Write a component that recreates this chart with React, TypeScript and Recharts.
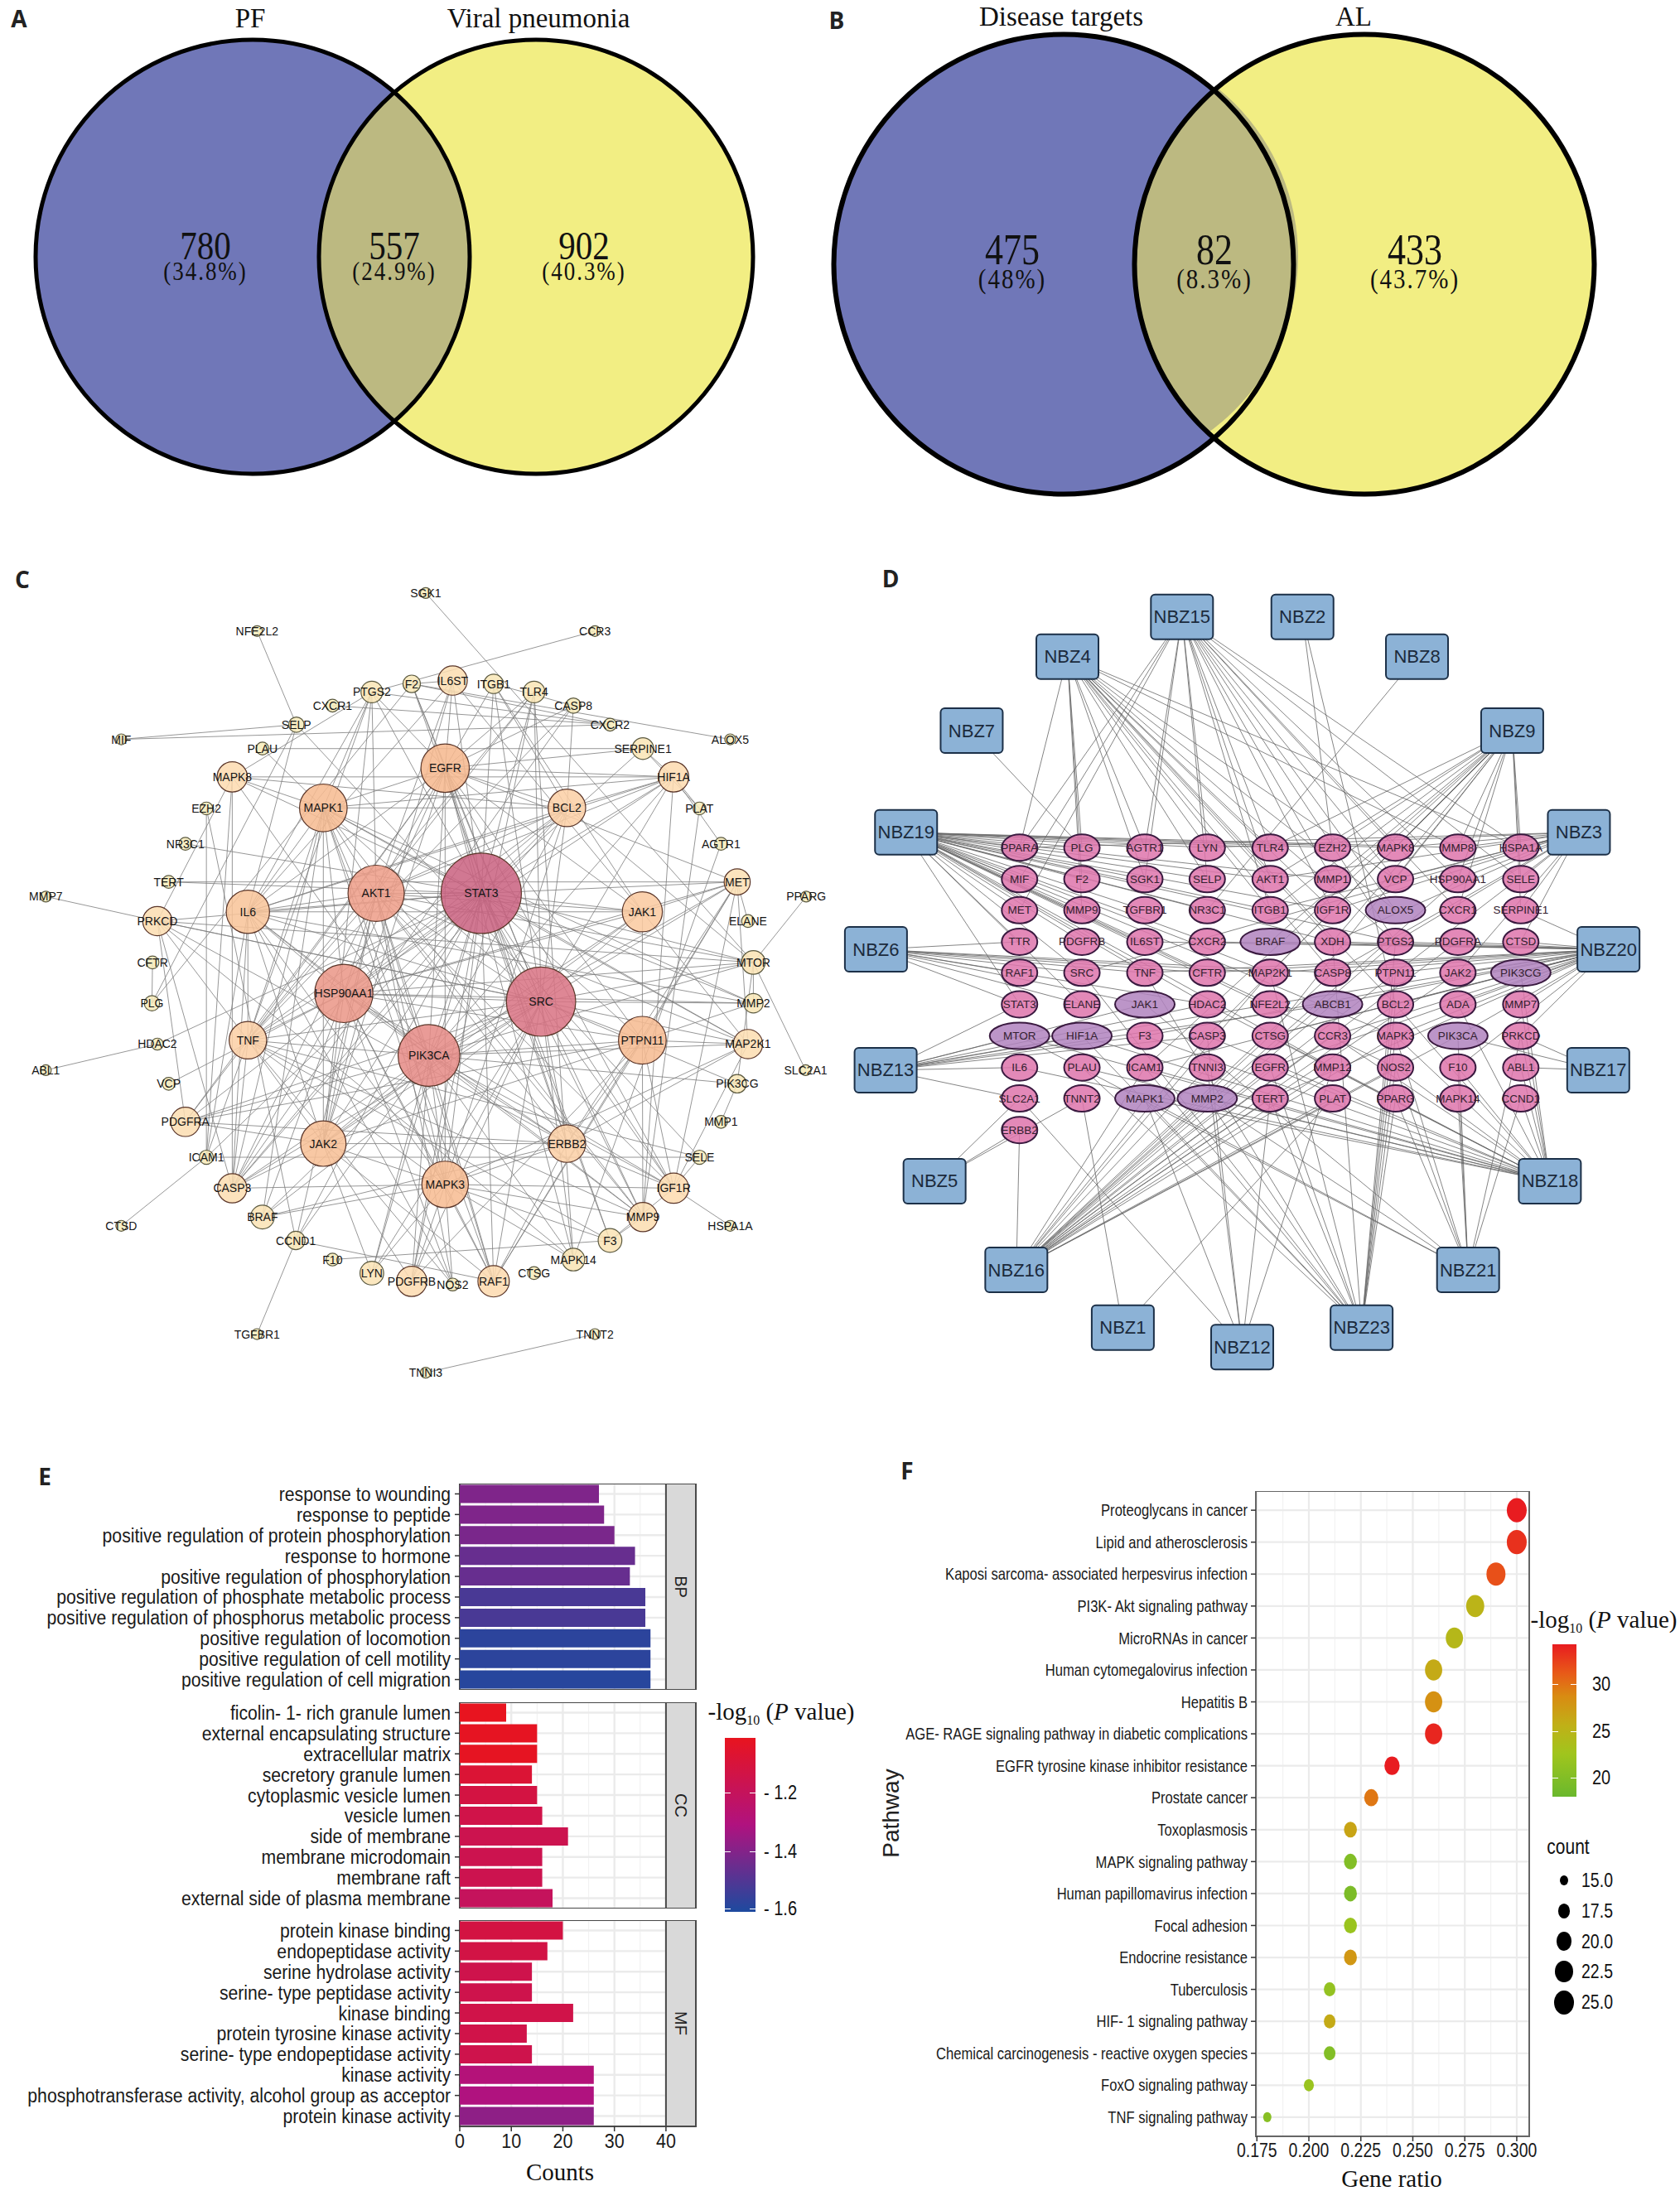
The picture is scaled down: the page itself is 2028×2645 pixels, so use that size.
import React from "react";
import {
  BarChart,
  Bar,
  Cell,
  ScatterChart,
  Scatter,
  XAxis,
  YAxis,
  ZAxis,
  CartesianGrid,
  ReferenceArea,
  ReferenceLine,
} from "recharts";

const SANS = "'Liberation Sans', Arial, sans-serif";
const SERIF = "'Liberation Serif', 'Times New Roman', serif";

// A / B: venn counts
const vennNamesA = ["PF", "Viral pneumonia"];
const vennCountsA = [780, 557, 902];
const vennPctA = ["(34.8%)", "(24.9%)", "(40.3%)"];
const vennNamesB = ["Disease targets", "AL"];
const vennCountsB = [475, 82, 433];
const vennPctB = ["(48%)", "(8.3%)", "(43.7%)"];

// C: PPI network, [name, x, y, score]
const nodesC: [string, number, number, number][] = [
  ["SGK1", 790, 85, 1], ["NFE2L2", 477, 155, 1], ["CCR3", 1104, 155, 1], ["IL6ST", 840, 246, 7.3],
  ["F2", 764, 252, 2.6], ["PTGS2", 690, 267, 4], ["CXCR1", 617, 292, 1.4], ["ITGB1", 916, 252, 3.2],
  ["TLR4", 991, 267, 4], ["CASP8", 1064, 292, 2], ["CXCR2", 1132, 327, 1.4], ["SELP", 550, 327, 2],
  ["MIF", 225, 354, 1], ["ALOX5", 1355, 354, 1], ["PLAU", 487, 371, 1.4], ["SERPINE1", 1193, 371, 4],
  ["MAPK8", 431, 423, 7.8], ["HIF1A", 1250, 423, 7.8], ["EZH2", 383, 481, 1.4], ["PLAT", 1298, 481, 1.4],
  ["NR3C1", 344, 546, 1.4], ["AGTR1", 1338, 546, 1.4], ["TERT", 313, 616, 1.4], ["MET", 1368, 616, 5.8],
  ["MMP7", 85, 643, 1], ["PPARG", 1496, 643, 1], ["PRKCD", 292, 688, 7.3], ["ELANE", 1388, 688, 1.4],
  ["CFTR", 283, 764, 1.4], ["MTOR", 1398, 764, 4.8], ["PLG", 282, 839, 2], ["MMP2", 1398, 839, 3.2],
  ["HDAC2", 292, 914, 1.2], ["MAP2K1", 1388, 914, 7.3], ["ABL1", 85, 962, 1], ["SLC2A1", 1495, 962, 1],
  ["VCP", 313, 987, 1.4], ["PIK3CG", 1368, 987, 2.9], ["PDGFRA", 344, 1057, 7.3], ["MMP1", 1338, 1057, 1.4],
  ["ICAM1", 383, 1122, 1.7], ["SELE", 1298, 1122, 1.7], ["CASP3", 431, 1179, 7.3], ["IGF1R", 1250, 1179, 7.8],
  ["CTSD", 225, 1248, 1], ["HSPA1A", 1355, 1248, 1], ["BRAF", 487, 1232, 4.8], ["MMP9", 1193, 1232, 7.3],
  ["CCND1", 549, 1275, 2.9], ["F3", 1132, 1275, 4.8], ["F10", 617, 1310, 1.4], ["MAPK14", 1064, 1310, 4.4],
  ["LYN", 690, 1335, 4.8], ["CTSG", 991, 1335, 1.4], ["PDGFRB", 764, 1350, 7.8], ["NOS2", 840, 1356, 1.4],
  ["RAF1", 916, 1350, 8.4], ["TGFBR1", 477, 1447, 1], ["TNNT2", 1104, 1447, 1], ["TNNI3", 790, 1518, 1],
  ["EGFR", 826, 407, 20], ["MAPK1", 600, 480, 19.4], ["BCL2", 1052, 480, 12], ["AKT1", 698, 637, 27],
  ["STAT3", 893, 637, 55], ["IL6", 460, 671, 16], ["JAK1", 1192, 671, 13.7], ["HSP90AA1", 638, 821, 29],
  ["SRC", 1004, 836, 41], ["PIK3CA", 796, 935, 32.5], ["TNF", 460, 907, 12], ["PTPN11", 1192, 907, 19.4],
  ["JAK2", 600, 1097, 17.6], ["ERBB2", 1052, 1097, 12], ["MAPK3", 826, 1172, 18.5],
];

const edgesC: [string, string][] = [
  ["STAT3", "SRC AKT1 PIK3CA HSP90AA1 MAPK1 MAPK3 EGFR IL6 JAK1 JAK2 TNF BCL2 PTPN11 ERBB2 MET HIF1A MTOR IGF1R MMP9 MMP2 MAP2K1 RAF1 PDGFRB PDGFRA CASP3 PRKCD ICAM1 TLR4 IL6ST ITGB1 SERPINE1 CCND1 PTGS2 F3 MAPK8 LYN TERT NR3C1 HDAC2"],
  ["SRC", "AKT1 PIK3CA HSP90AA1 MAPK1 MAPK3 EGFR JAK1 JAK2 ERBB2 MET PTPN11 IGF1R MMP9 MMP2 MAP2K1 RAF1 PDGFRB PDGFRA PRKCD BRAF ITGB1 BCL2 TNF IL6 LYN MAPK14 HIF1A MTOR TLR4 CASP3 F2 PIK3CG"],
  ["PIK3CA", "AKT1 HSP90AA1 MAPK1 MAPK3 EGFR IL6 JAK1 JAK2 ERBB2 MET PTPN11 IGF1R MTOR MAP2K1 RAF1 PDGFRB PDGFRA BRAF TNF BCL2 HIF1A PIK3CG LYN CCND1 CASP3 MMP9"],
  ["HSP90AA1", "AKT1 MAPK1 MAPK3 EGFR JAK1 JAK2 ERBB2 MET PTPN11 IGF1R MTOR RAF1 BRAF TNF IL6 BCL2 HIF1A NOS2 CASP3 MMP2 VCP"],
  ["AKT1", "MAPK1 MAPK3 EGFR IL6 JAK2 JAK1 TNF BCL2 ERBB2 IGF1R MTOR MAP2K1 RAF1 HIF1A CASP3 CCND1 PTGS2 NOS2 MMP9 TLR4 IL6ST"],
  ["MAPK1", "MAPK3 EGFR IL6 JAK2 BCL2 TNF MAPK8 MAP2K1 RAF1 BRAF CASP3 HIF1A PTGS2 MMP2 MMP9 PLAU"],
  ["EGFR", "IL6 TNF BCL2 ERBB2 MET JAK2 JAK1 PTPN11 MAPK3 IGF1R PDGFRA PTGS2 F2 IL6ST ITGB1 TLR4 HIF1A SERPINE1 MAPK14 CASP8"],
  ["BCL2", "MAPK8 TNF IL6 CASP3 CASP8 MAPK3 HIF1A MTOR"],
  ["IL6", "TNF JAK1 JAK2 MAPK3 PTGS2 ICAM1 MMP9 HIF1A IL6ST MMP2 CASP3 NOS2 SELP"],
  ["TNF", "MAPK3 JAK2 ICAM1 PTGS2 CASP8 CASP3 MMP9 PRKCD TLR4 SELE PDGFRA NOS2 F3"],
  ["JAK1", "JAK2 PTPN11 MET IL6ST MAP2K1 ITGB1"],
  ["PTPN11", "JAK2 ERBB2 PDGFRA PDGFRB MET MAP2K1 MMP2 IGF1R MMP9 RAF1"],
  ["JAK2", "MAPK3 ERBB2 PDGFRA CASP3 LYN PTGS2 RAF1 PDGFRB IL6ST"],
  ["ERBB2", "MAPK3 MET IGF1R RAF1 PDGFRA MAP2K1 PRKCD BRAF"],
  ["MAPK3", "MAP2K1 RAF1 BRAF CASP3 MAPK14 IGF1R MMP9 NOS2 PDGFRB LYN F3"],
  ["PTGS2", "CCR3 CXCR2 MAPK8"],
  ["F2", "ALOX5 CXCR2 PLG IL6ST"],
  ["SGK1", "MTOR"],
  ["NFE2L2", "SELP"],
  ["MIF", "SELP CXCR2"],
  ["CXCR1", "CXCR2"],
  ["MMP7", "PRKCD"],
  ["PPARG", "MTOR"],
  ["SLC2A1", "MTOR"],
  ["ABL1", "HDAC2"],
  ["CTSD", "ICAM1"],
  ["HSPA1A", "IGF1R"],
  ["PLAU", "SERPINE1"],
  ["ICAM1", "SELE EZH2"],
  ["TGFBR1", "CCND1"],
  ["TNNT2", "TNNI3"],
  ["MAPK8", "CASP3 ICAM1 MAPK14 PRKCD"],
  ["HIF1A", "AGTR1 PLAT SERPINE1 MMP9 MAPK8"],
  ["PRKCD", "MTOR PDGFRA SRC CASP3 MAPK14"],
  ["CFTR", "PLG"],
  ["MET", "ELANE IGF1R RAF1 MAP2K1 TERT"],
  ["PIK3CG", "MMP1 MTOR"],
  ["MMP2", "MTOR"],
  ["F3", "F10 MMP9 F2 IGF1R"],
  ["CCND1", "RAF1 EZH2"],
  ["SELP", "SELE PLG"],
  ["PLAT", "MMP9 SERPINE1"],
  ["TLR4", "MAPK14 PDGFRB"],
  ["ITGB1", "BCL2 CASP8"],
  ["CASP8", "CASP3"],
  ["IGF1R", "MAP2K1 SELE"],
  ["AGTR1", "MAPK14"],
];

// D: compound-target network
const drugs: [string, number, number][] = [
  ["NBZ15", 642, 129], ["NBZ2", 866, 129], ["NBZ4", 429, 202], ["NBZ8", 1079, 202], ["NBZ7", 251, 338],
  ["NBZ9", 1256, 338], ["NBZ19", 129, 525], ["NBZ3", 1380, 525], ["NBZ6", 73, 740], ["NBZ20", 1435, 740],
  ["NBZ13", 91, 962], ["NBZ17", 1416, 962], ["NBZ5", 182, 1166], ["NBZ18", 1326, 1166], ["NBZ16", 334, 1329],
  ["NBZ21", 1174, 1329], ["NBZ1", 532, 1435], ["NBZ23", 976, 1435], ["NBZ12", 754, 1471],
];
const targetCols = [340, 456, 573, 689, 806, 922, 1039, 1155, 1272];
const targetRowY = [553, 611, 668, 726, 783, 841, 899, 957, 1014, 1072];
const targetRows = [
  ["PPARA", "PLG", "AGTR1", "LYN", "TLR4", "EZH2", "MAPK8", "MMP8", "HSPA1A"],
  ["MIF", "F2", "SGK1", "SELP", "AKT1", "MMP1", "VCP", "HSP90AA1", "SELE"],
  ["MET", "MMP9", "TGFBR1", "NR3C1", "ITGB1", "IGF1R", "ALOX5", "CXCR1", "SERPINE1"],
  ["TTR", "PDGFRB", "IL6ST", "CXCR2", "BRAF", "XDH", "PTGS2", "PDGFRA", "CTSD"],
  ["RAF1", "SRC", "TNF", "CFTR", "MAP2K1", "CASP8", "PTPN11", "JAK2", "PIK3CG"],
  ["STAT3", "ELANE", "JAK1", "HDAC2", "NFE2L2", "ABCB1", "BCL2", "ADA", "MMP7"],
  ["MTOR", "HIF1A", "F3", "CASP3", "CTSG", "CCR3", "MAPK3", "PIK3CA", "PRKCD"],
  ["IL6", "PLAU", "ICAM1", "TNNI3", "EGFR", "MMP12", "NOS2", "F10", "ABL1"],
  ["SLC2A1", "TNNT2", "MAPK1", "MMP2", "TERT", "PLAT", "PPARG", "MAPK14", "CCND1"],
  ["ERBB2"],
];
const wideTargets = ["ALOX5", "BRAF", "PIK3CG", "JAK1", "ABCB1", "MTOR", "HIF1A", "PIK3CA", "MAPK1", "MMP2"];

const edgesD: [string, string][] = [
  ["NBZ7", "PLG"],
  ["NBZ8", "NR3C1"],
  ["NBZ2", "EZH2 BCL2"],
  ["NBZ15", "PPARA MIF MET SGK1 AGTR1 LYN SELP TLR4 AKT1 ITGB1 MMP1 IGF1R MAPK8 VCP ALOX5 CXCR1 HSP90AA1 PTGS2 HSPA1A SELE"],
  ["NBZ4", "PPARA PLG F2 MMP9 SGK1 AGTR1 LYN SELP AKT1 TLR4 ITGB1 MMP8 HSPA1A CASP8 XDH IGF1R PTGS2 VCP ALOX5 BCL2"],
  ["NBZ9", "MAPK8 MMP1 SELE HSPA1A TLR4 AKT1 ITGB1 VCP CXCR1 SERPINE1 MMP8 IGF1R BRAF XDH MAP2K1 CASP3 CTSG HSP90AA1 EZH2 ICAM1"],
  ["NBZ19", "PPARA PLG AGTR1 LYN TLR4 EZH2 MAPK8 MMP8 MIF F2 SGK1 SELP AKT1 MMP1 MET MMP9 TGFBR1 NR3C1 ITGB1 IGF1R TTR PDGFRB IL6ST CXCR2 XDH PTGS2 SRC TNF CFTR MAP2K1 STAT3 HDAC2 NFE2L2 ELANE MAPK3 NOS2 MMP12"],
  ["NBZ3", "PPARA HSPA1A SELE CTSD SERPINE1 HSP90AA1 MMP8 MAPK8 VCP AKT1 ITGB1 IGF1R XDH PTGS2 CASP8 PTPN11 JAK2 SRC LYN"],
  ["NBZ20", "CTSD PIK3CG SERPINE1 PDGFRA PTGS2 XDH BRAF CXCR2 IL6ST JAK2 PTPN11 CASP8 MAP2K1 CFTR TNF MMP7 ADA BCL2 ABCB1 NFE2L2 PIK3CA MAPK3 CTSG PRKCD CCR3 F3 ICAM1 F10 TERT EGFR"],
  ["NBZ6", "TTR RAF1 SRC TNF STAT3 ELANE JAK1 CFTR MAP2K1 CASP8 HDAC2"],
  ["NBZ13", "MTOR HIF1A F3 CASP3 IL6 STAT3 SLC2A1 JAK1 HDAC2 NFE2L2 ABCB1"],
  ["NBZ17", "ABL1 PRKCD PIK3CA"],
  ["NBZ5", "ERBB2 SLC2A1 TNNT2"],
  ["NBZ18", "CCND1 ABL1 PRKCD F10 MMP7 PIK3CG NOS2 MAPK3 MMP12 EGFR CTSG CASP3 HDAC2 ICAM1 MAPK1 MMP2 PLAU F3 HIF1A MTOR IL6 ADA CCR3 BCL2"],
  ["NBZ16", "ERBB2 MAPK1 MMP2 TERT PLAT EGFR MMP12 NOS2 PIK3CA MAPK3 CCR3 ABCB1 CTSG CASP3 TNNI3 ICAM1 PTPN11 JAK2 PDGFRA BCL2 MAP2K1 CASP8 HSP90AA1 PTGS2"],
  ["NBZ21", "MAPK14 F10 NOS2 PPARG CCND1 PRKCD PIK3CA MAPK3 MAPK1 MMP2 JAK1 MTOR"],
  ["NBZ1", "TNNT2 PLAT"],
  ["NBZ12", "SLC2A1 TNNI3 CASP3 MAPK1 TERT MMP12"],
  ["NBZ23", "PPARG NOS2 MAPK3 PTGS2 BCL2 MAPK1 MMP2 TERT EGFR PLAU ICAM1 TNF SRC MAP2K1 HIF1A PTPN11 XDH"],
];

// E: GO enrichment
const bpTerms = [
  "response to wounding", "response to peptide", "positive regulation of protein phosphorylation", "response to hormone",
  "positive regulation of phosphorylation", "positive regulation of phosphate metabolic process",
  "positive regulation of phosphorus metabolic process", "positive regulation of locomotion",
  "positive regulation of cell motility", "positive regulation of cell migration",
];
const bpCounts = [27, 28, 30, 34, 33, 36, 36, 37, 37, 37];
const bpLogP = [-1.41, -1.41, -1.42, -1.46, -1.46, -1.52, -1.52, -1.58, -1.58, -1.59];
const ccTerms = [
  "ficolin- 1- rich granule lumen", "external encapsulating structure", "extracellular matrix", "secretory granule lumen",
  "cytoplasmic vesicle lumen", "vesicle lumen", "side of membrane", "membrane microdomain", "membrane raft",
  "external side of plasma membrane",
];
const ccCounts = [9, 15, 15, 14, 15, 16, 21, 16, 16, 18];
const ccLogP = [-1.01, -1.02, -1.02, -1.08, -1.12, -1.14, -1.16, -1.16, -1.16, -1.2];
const mfTerms = [
  "protein kinase binding", "endopeptidase activity", "serine hydrolase activity", "serine- type peptidase activity",
  "kinase binding", "protein tyrosine kinase activity", "serine- type endopeptidase activity", "kinase activity",
  "phosphotransferase activity, alcohol group as acceptor", "protein kinase activity",
];
const mfCounts = [20, 17, 14, 14, 22, 13, 14, 26, 26, 26];
const mfLogP = [-1.12, -1.13, -1.15, -1.15, -1.14, -1.14, -1.15, -1.29, -1.31, -1.38];
const countTicks = [0, 10, 20, 30, 40];
const countGridMinor = [5, 15, 25, 35];

// F: KEGG bubble
const pathways = [
  "Proteoglycans in cancer", "Lipid and atherosclerosis", "Kaposi sarcoma- associated herpesvirus infection",
  "PI3K- Akt signaling pathway", "MicroRNAs in cancer", "Human cytomegalovirus infection", "Hepatitis B",
  "AGE- RAGE signaling pathway in diabetic complications", "EGFR tyrosine kinase inhibitor resistance", "Prostate cancer",
  "Toxoplasmosis", "MAPK signaling pathway", "Human papillomavirus infection", "Focal adhesion", "Endocrine resistance",
  "Tuberculosis", "HIF- 1 signaling pathway", "Chemical carcinogenesis -  reactive oxygen species", "FoxO signaling pathway",
  "TNF signaling pathway",
];
const geneRatio = [0.3, 0.3, 0.29, 0.28, 0.27, 0.26, 0.26, 0.26, 0.24, 0.23, 0.22, 0.22, 0.22, 0.22, 0.22, 0.21, 0.21, 0.21, 0.2, 0.18];
const pathwayCount = [25, 25, 24, 23, 22, 22, 22, 22, 20, 19, 18, 18, 18, 18, 18, 17, 17, 17, 16, 15];
const pathwayLogP = [34, 33, 31.5, 25, 24.5, 26, 28, 33.5, 34, 29.5, 26.5, 20, 19.5, 22, 27.5, 21.5, 26, 20, 22, 20.5];
const ratioTicks = [0.175, 0.2, 0.225, 0.25, 0.275, 0.3];
const ratioMinor = [0.1875, 0.2125, 0.2375, 0.2625, 0.2875];
const sizeLegend = [15, 17.5, 20, 22.5, 25];

type Stop = [number, number[]];
const logPStopsE: Stop[] = [[-1.61, [29, 74, 159]], [-1.31, [176, 18, 127]], [-1.01, [232, 20, 31]]];
const logPStopsF: Stop[] = [
  [18, [106, 184, 45]], [22.5, [160, 197, 29]], [25.5, [192, 176, 23]], [28.5, [217, 139, 18]], [31, [232, 90, 24]], [34, [232, 28, 32]],
];

function ramp(stops: Stop[], v: number) {
  for (let i = 1; i < stops.length; i++) {
    if (v <= stops[i][0]) {
      const t = Math.max(0, (v - stops[i - 1][0]) / (stops[i][0] - stops[i - 1][0]));
      const c = stops[i - 1][1].map((a, k) => Math.round(a + (stops[i][1][k] - a) * t));
      return `rgb(${c.join(",")})`;
    }
  }
  return `rgb(${stops[stops.length - 1][1].join(",")})`;
}

const nodeStops: Stop[] = [
  [1, [246, 236, 186]], [8, [253, 219, 176]], [20, [246, 184, 142]], [30, [233, 146, 134]], [42, [214, 112, 132]], [55, [202, 98, 128]],
];

function T({ x, y, size, font = SANS, color = "#111", weight, rotate, sy, children, spacing }: any) {
  return (
    <div
      style={{
        position: "absolute",
        left: x,
        top: y,
        transform: `translate(-50%, -50%)${rotate ? ` rotate(${rotate}deg)` : ""}${sy ? ` scaleY(${sy})` : ""}`,
        whiteSpace: "pre",
        fontSize: size,
        fontFamily: font,
        color,
        fontWeight: weight,
        letterSpacing: spacing,
        lineHeight: 1,
      }}
    >
      {children}
    </div>
  );
}

function LogTitle({ x, y, size }: { x: number; y: number; size: number }) {
  return (
    <T x={x} y={y} size={size} font={SERIF}>
      -log<sub style={{ fontSize: size * 0.55, verticalAlign: "sub", lineHeight: 0 }}>10</sub> (<i>P</i> value)
    </T>
  );
}

// the source figure is stretched vertically, so tick text gets the same stretch
function stretchTick(size: number, sy: number, baseline: string, fmt?: (v: any) => string) {
  return (p: any) => (
    <text
      transform={`translate(${p.x},${p.y}) scale(1,${sy})`}
      textAnchor={p.textAnchor}
      dominantBaseline={baseline}
      fontSize={size}
      fontFamily={SANS}
      fill="#1a1a1a"
    >
      {fmt ? fmt(p.payload.value) : p.payload.value}
    </text>
  );
}

function vennShape(r: number, sw: number, dx: number) {
  return (p: any) => {
    const first = p.payload.set === 0;
    if (first) return <circle cx={p.cx} cy={p.cy} r={r} fill="#7077b8" />;
    const id = `lens${Math.round(p.cx)}`;
    return (
      <g>
        <defs>
          <clipPath id={id}>
            <circle cx={p.cx - dx} cy={p.cy} r={r} />
          </clipPath>
        </defs>
        <circle cx={p.cx} cy={p.cy} r={r} fill="#f2ee83" />
        <circle cx={p.cx} cy={p.cy} r={r} fill="#bcb981" clipPath={`url(#${id})`} />
        <circle cx={p.cx} cy={p.cy} r={r} fill="none" stroke="#000" strokeWidth={sw} />
        <circle cx={p.cx - dx} cy={p.cy} r={r} fill="none" stroke="#000" strokeWidth={sw} />
      </g>
    );
  };
}

function vennLabel(bigSize: number, smallSize: number, gap: number) {
  return (p: any) => (
    <g fontFamily={SERIF} fill="#111" textAnchor="middle">
      <text transform={`translate(${p.cx},${p.cy}) scale(1,1.2)`} fontSize={bigSize} dominantBaseline="central">{p.payload.count}</text>
      <text transform={`translate(${p.cx},${p.cy + gap}) scale(1,1.15)`} fontSize={smallSize} letterSpacing={2} dominantBaseline="central">{p.payload.pct}</text>
    </g>
  );
}

function Venn({ left, w, h, circles, r, sw, regions, bigSize, smallSize, gap }: any) {
  return (
    <div style={{ position: "absolute", left, top: 0 }}>
      <ScatterChart width={w} height={h} margin={{ top: 0, right: 0, bottom: 0, left: 0 }}>
        <XAxis type="number" dataKey="x" domain={[0, w]} hide />
        <YAxis type="number" dataKey="y" domain={[0, h]} reversed hide />
        <Scatter data={circles} isAnimationActive={false} shape={vennShape(r, sw, circles[1].x - circles[0].x)} />
        <Scatter data={regions} isAnimationActive={false} shape={vennLabel(bigSize, smallSize, gap)} />
      </ScatterChart>
    </div>
  );
}

const nodeDataC = nodesC.map(([name, x, y, z]) => ({ name, x, y, z }));
const nodeIndexC = Object.fromEntries(nodeDataC.map((n) => [n.name, n]));
const linksC = edgesC.flatMap(([a, list]) =>
  list.split(" ").filter((b) => nodeIndexC[b]).map((b) => [nodeIndexC[a], nodeIndexC[b]])
);

function NodeC(p: any) {
  const r = Math.sqrt(p.size / Math.PI);
  return (
    <g>
      <circle cx={p.cx} cy={p.cy} r={r} fill={ramp(nodeStops, p.payload.z)} fillOpacity={0.86} stroke={p.payload.z > 5 ? "#5a3528" : "#5c5a40"} strokeWidth={1.2} />
      <text x={p.cx} y={p.cy} fontFamily={SANS} fontSize={14} fill="#151515" textAnchor="middle" dominantBaseline="central">{p.payload.name}</text>
    </g>
  );
}

const targetData = targetRows.flatMap((row, i) =>
  row.map((name, j) => ({ name, x: targetCols[j], y: targetRowY[i], wide: wideTargets.includes(name) }))
);
const drugData = drugs.map(([name, x, y]) => ({ name, x, y }));
const indexD: any = Object.fromEntries([...targetData, ...drugData].map((n) => [n.name, n]));
const linksD = edgesD.flatMap(([a, list]) =>
  list.split(" ").filter((b) => indexD[b]).map((b) => [indexD[a], indexD[b]])
);

function TargetNode(p: any) {
  const wide = p.payload.wide;
  return (
    <g>
      <ellipse cx={p.cx} cy={p.cy} rx={wide ? 36 : 21.5} ry={16} fill={wide ? "#b083be" : "#de74ab"} fillOpacity={0.85} stroke="#3a1a40" strokeWidth={2} />
      <text x={p.cx} y={p.cy} fontFamily={SANS} fontSize={13.5} fill="#33202f" textAnchor="middle" dominantBaseline="central">{p.payload.name}</text>
    </g>
  );
}

function DrugNode(p: any) {
  return (
    <g>
      <rect x={p.cx - 37.5} y={p.cy - 27} width={75} height={54} rx={5} fill="#8cb2d6" stroke="#1c3048" strokeWidth={2} />
      <text x={p.cx} y={p.cy} fontFamily={SANS} fontSize={22} fill="#1b2a3c" textAnchor="middle" dominantBaseline="central">{p.payload.name}</text>
    </g>
  );
}

function Network({ left, w, links, stroke, children }: any) {
  return (
    <div style={{ position: "absolute", left, top: 660 }}>
      <ScatterChart width={w} height={1030} margin={{ top: 0, right: 0, bottom: 0, left: 0 }}>
        <XAxis type="number" dataKey="x" domain={[0, 1568]} hide />
        <YAxis type="number" dataKey="y" domain={[0, 1568]} reversed hide />
        <ZAxis type="number" dataKey="z" domain={[0, 60]} range={[0, 8050]} />
        {links.map(([a, b]: any, i: number) => (
          <ReferenceLine key={i} segment={[{ x: a.x, y: a.y }, { x: b.x, y: b.y }]} stroke={stroke} strokeWidth={0.8} />
        ))}
        {children}
      </ScatterChart>
    </div>
  );
}

function GoPanel({ top, terms, counts, logP, strip, showAxis }: any) {
  const data = terms.map((term: string, i: number) => ({ term, count: counts[i], logP: logP[i] }));
  return (
    <div style={{ position: "absolute", left: 0, top }}>
      <BarChart
        width={842}
        height={showAxis ? 299 : 249}
        data={data}
        layout="vertical"
        barCategoryGap="6%"
        margin={{ top: 0, right: 2, bottom: 0, left: 0 }}
      >
        <CartesianGrid horizontal={false} verticalValues={countGridMinor} stroke="#f2f2f2" strokeWidth={1.2} />
        <CartesianGrid verticalValues={countTicks} stroke="#ebebeb" strokeWidth={2.4} />
        <XAxis
          type="number"
          domain={[0, 45.8]}
          ticks={countTicks}
          allowDataOverflow
          hide={!showAxis}
          height={50}
          axisLine={false}
          tickSize={6}
          tick={stretchTick(21.5, 1.15, "hanging")}
          tickLine={{ stroke: "#333", strokeWidth: 1.5 }}
        />
        <YAxis
          type="category"
          dataKey="term"
          width={555}
          interval={0}
          axisLine={false}
          tickSize={6}
          tickMargin={5}
          tick={stretchTick(21.2, 1.15, "central")}
          tickLine={{ stroke: "#333", strokeWidth: 1.5 }}
        />
        <Bar dataKey="count" isAnimationActive={false}>
          {data.map((d: any, i: number) => (
            <Cell key={i} fill={ramp(logPStopsE, d.logP)} />
          ))}
        </Bar>
        <ReferenceArea
          x1={40}
          x2={45.8}
          fill="#d9d9d9"
          fillOpacity={1}
          stroke="#4a4a4a"
          strokeWidth={2}
          label={{ value: strip, angle: 90, position: "center", fontSize: 20, fill: "#222", fontFamily: SANS }}
        />
        <ReferenceArea x1={0} x2={45.8} fill="none" stroke="#4a4a4a" strokeWidth={2} />
      </BarChart>
    </div>
  );
}

const bubbleData = pathways.map((name, i) => ({ name, rank: i + 1, ratio: geneRatio[i], count: pathwayCount[i], logP: pathwayLogP[i] }));

function Bubble(p: any) {
  const r = Math.sqrt(p.size / Math.PI);
  return <ellipse cx={p.cx} cy={p.cy} rx={r} ry={r * 1.22} fill={ramp(logPStopsF, p.payload.logP)} />;
}

function ColorBar({ x, y, w, h, gradient, ticks }: any) {
  return (
    <>
      <div style={{ position: "absolute", left: x, top: y, width: w, height: h, background: gradient }} />
      {ticks.map(([label, ty]: [string, number]) => (
        <React.Fragment key={label}>
          <div style={{ position: "absolute", left: x, top: ty - 0.5, width: 7, height: 1, background: "#fff" }} />
          <div style={{ position: "absolute", left: x + w - 7, top: ty - 0.5, width: 7, height: 1, background: "#fff" }} />
          <T x={x + w + 30} y={ty} size={20} sy={1.15}>{label}</T>
        </React.Fragment>
      ))}
    </>
  );
}

export default function App() {
  const vennCirclesA = [{ set: 0, x: 305, y: 310 }, { set: 1, x: 647, y: 310 }];
  const regionsA = [248, 476, 705].map((x, i) => ({ x, y: 297, count: vennCountsA[i], pct: vennPctA[i] }));
  const vennCirclesB = [{ set: 0, x: 284, y: 319 }, { set: 1, x: 647, y: 319 }];
  const regionsB = [222, 466, 708].map((x, i) => ({ x, y: 302, count: vennCountsB[i], pct: vennPctB[i] }));
  const letter = { size: 28, font: "'Open Sans', sans-serif", weight: 700, color: "#222" };

  return (
    <div style={{ position: "absolute", left: 0, top: 0, width: 2028, height: 2645, background: "#fff", overflow: "hidden" }}>
      <Venn left={0} w={1000} h={640} circles={vennCirclesA} r={262} sw={5} regions={regionsA} bigSize={41} smallSize={27} gap={30} />
      <Venn left={1000} w={1028} h={640} circles={vennCirclesB} r={277.5} sw={6} regions={regionsB} bigSize={44} smallSize={29} gap={35} />
      <T x={302} y={22} size={33} font={SERIF}>{vennNamesA[0]}</T>
      <T x={650} y={22} size={33} font={SERIF}>{vennNamesA[1]}</T>
      <T x={1281} y={20} size={33} font={SERIF}>{vennNamesB[0]}</T>
      <T x={1634} y={20} size={33} font={SERIF}>{vennNamesB[1]}</T>
      <T x={23} y={22} {...letter}>A</T>
      <T x={1010} y={24} {...letter}>B</T>

      <Network left={0} w={1020} links={linksC} stroke="#7c7c7c">
        <Scatter data={nodeDataC} isAnimationActive={false} shape={NodeC} />
      </Network>
      <T x={27} y={699} {...letter}>C</T>

      <Network left={1010} w={1018} links={linksD} stroke="#666">
        <Scatter data={targetData} isAnimationActive={false} shape={TargetNode} />
        <Scatter data={drugData} isAnimationActive={false} shape={DrugNode} />
      </Network>
      <T x={1075} y={698} {...letter}>D</T>

      <T x={54} y={1782} {...letter}>E</T>
      <GoPanel top={1791} terms={bpTerms} counts={bpCounts} logP={bpLogP} strip="BP" />
      <GoPanel top={2055} terms={ccTerms} counts={ccCounts} logP={ccLogP} strip="CC" />
      <GoPanel top={2318} terms={mfTerms} counts={mfCounts} logP={mfLogP} strip="MF" showAxis />
      <T x={676} y={2622} size={29} font={SERIF}>Counts</T>
      <LogTitle x={943} y={2066} size={29} />
      <ColorBar
        x={875}
        y={2098}
        w={37}
        h={210}
        gradient="linear-gradient(to bottom, #e8141f, #b0127f 50%, #1d4a9f)"
        ticks={[["- 1.2", 2164], ["- 1.4", 2235], ["- 1.6", 2304]]}
      />

      <T x={1095} y={1775} {...letter}>F</T>
      <div style={{ position: "absolute", left: 1040, top: 1800 }}>
        <ScatterChart width={850} height={834} margin={{ top: 0, right: 44, bottom: 0, left: 0 }}>
          <CartesianGrid horizontal={false} verticalValues={ratioMinor} stroke="#f2f2f2" strokeWidth={1.2} />
          <CartesianGrid verticalValues={ratioTicks} horizontalValues={bubbleData.map((d) => d.rank)} stroke="#ebebeb" strokeWidth={2.2} />
          <XAxis
            type="number"
            dataKey="ratio"
            domain={[0.1745, 0.306]}
            ticks={ratioTicks}
            height={55}
            axisLine={false}
            tickSize={6}
            tick={stretchTick(19.5, 1.2, "hanging", (v: number) => v.toFixed(3))}
            tickLine={{ stroke: "#333", strokeWidth: 1.5 }}
          />
          <YAxis
            type="number"
            dataKey="rank"
            domain={[0.4, 20.6]}
            reversed
            ticks={bubbleData.map((d) => d.rank)}
            interval={0}
            width={476}
            axisLine={false}
            tickSize={6}
            tickMargin={4}
            tick={stretchTick(16.6, 1.25, "central", (v: number) => pathways[v - 1])}
            tickLine={{ stroke: "#333", strokeWidth: 1.5 }}
          />
          <ZAxis type="number" dataKey="count" domain={[15, 25]} range={[78, 452]} />
          <ReferenceArea x1={0.1745} x2={0.306} y1={0.4} y2={20.6} fill="none" stroke="#666" strokeWidth={2} />
          <Scatter data={bubbleData} isAnimationActive={false} shape={Bubble} />
        </ScatterChart>
      </div>
      <T x={1076} y={2189} size={28} rotate={-90} color="#222">Pathway</T>
      <T x={1680} y={2630} size={29} font={SERIF}>Gene ratio</T>
      <LogTitle x={1936} y={1955} size={29} />
      <ColorBar
        x={1874}
        y={1985}
        w={29}
        h={184}
        gradient="linear-gradient(to bottom, #e81c20, #e85a18 19%, #d98b12 34%, #c0b017 53%, #a0c51d 72%, #6ab82d)"
        ticks={[["30", 2033], ["25", 2090], ["20", 2146]]}
      />
      <T x={1893} y={2229} size={21} sy={1.2}>count</T>
      {sizeLegend.map((s, i) => {
        const r = Math.sqrt(25 + (s - 15) * 11.9);
        return (
          <React.Fragment key={s}>
            <div
              style={{
                position: "absolute",
                left: 1888 - r,
                top: 2270 + i * 36.8 - r * 1.22,
                width: 2 * r,
                height: 2.44 * r,
                borderRadius: "50%",
                background: "#000",
              }}
            />
            <T x={1928} y={2270 + i * 36.8} size={19.5} sy={1.2}>{s.toFixed(1)}</T>
          </React.Fragment>
        );
      })}
    </div>
  );
}
